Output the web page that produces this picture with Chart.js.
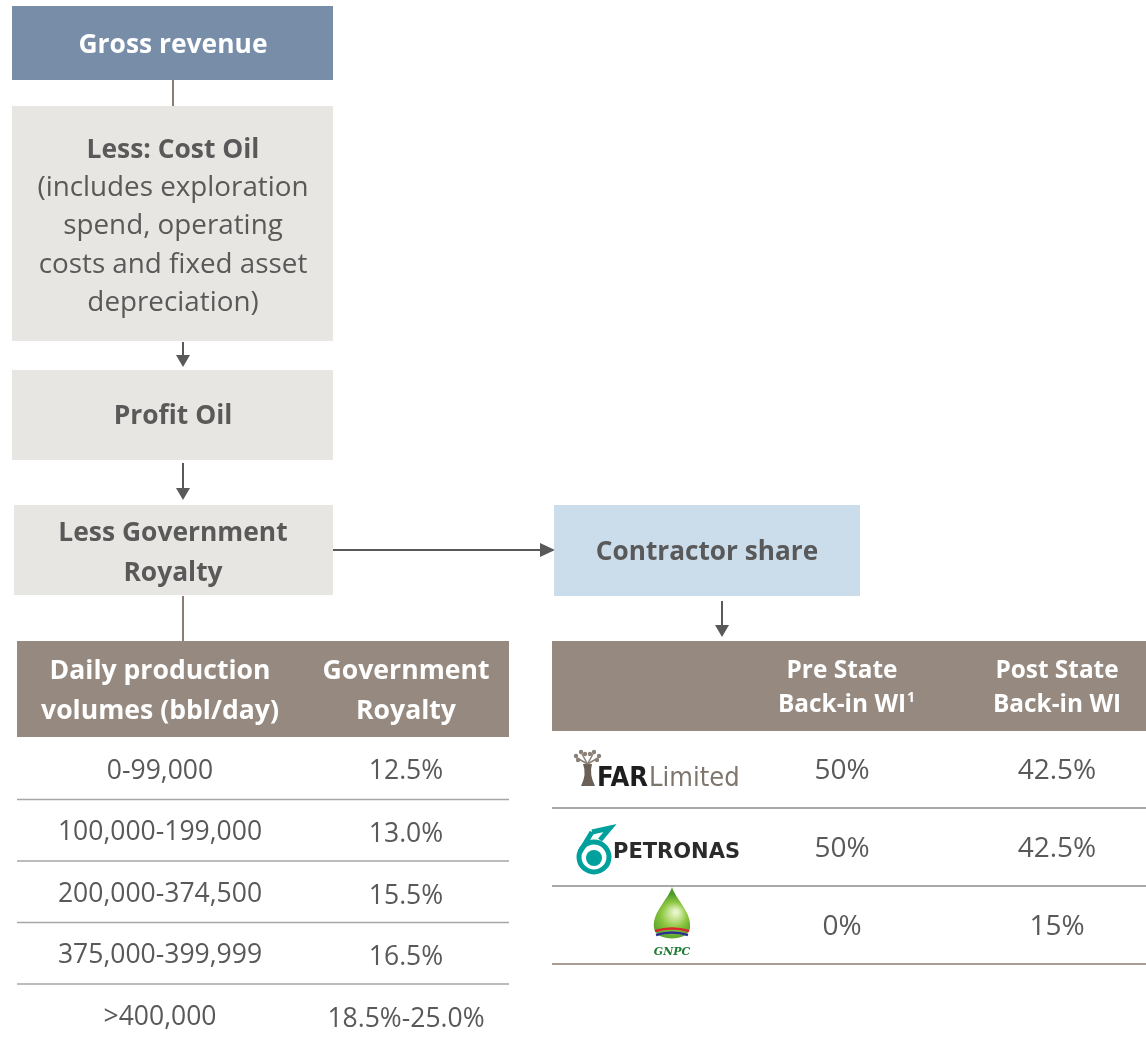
<!DOCTYPE html>
<html>
<head>
<meta charset="utf-8">
<script src="https://cdn.jsdelivr.net/npm/chart.js@4"></script>
<style>
  html, body { margin: 0; padding: 0; background: #fff; }
  #flow { display: block; }
</style>
</head>
<body>
<canvas id="flow" width="1146" height="1042"></canvas>
<script>
// flow steps (top to bottom)
const steps = ['Gross revenue', 'Less: Cost Oil', 'Profit Oil', 'Less Government Royalty', 'Contractor share'];
const costOilNote = ['(includes exploration', 'spend, operating', 'costs and fixed asset', 'depreciation)'];

// royalty table
const royaltyHeaders = [['Daily production', 'volumes (bbl/day)'], ['Government', 'Royalty']];
const volumeBands = ['0-99,000', '100,000-199,000', '200,000-374,500', '375,000-399,999', '>400,000'];
const royaltyRates = ['12.5%', '13.0%', '15.5%', '16.5%', '18.5%-25.0%'];

// contractor share table
const shareHeaders = [['Pre State', 'Back-in WI'], ['Post State', 'Back-in WI']];
const partners = ['FAR Limited', 'PETRONAS', 'GNPC'];
const preBackIn = ['50%', '50%', '0%'];
const postBackIn = ['42.5%', '42.5%', '15%'];

const FONT = '"Open Sans", Lato, sans-serif';
const TEXT = '#595959';

function font(size, bold) {
    return (bold ? 'bold ' : '') + size + 'px ' + FONT;
}

const flowPlugin = {
    id: 'flow',
    afterDraw(chart) {
        const ctx = chart.ctx;
        const sx = chart.scales.x, sy = chart.scales.y;
        const X = v => sx.getPixelForValue(v);
        const Y = v => sy.getPixelForValue(v);

        function box(x0, y0, x1, y1, fill) {
            ctx.fillStyle = fill;
            ctx.fillRect(X(x0), Y(y0), X(x1) - X(x0), Y(y1) - Y(y0));
        }
        function text(str, x, y, size, bold, color) {
            ctx.font = font(size, bold);
            ctx.fillStyle = color || TEXT;
            ctx.textAlign = 'center';
            ctx.textBaseline = 'middle';
            ctx.fillText(str, X(x), Y(y));
        }
        function line(x0, y0, x1, y1, color, w) {
            ctx.strokeStyle = color;
            ctx.lineWidth = w || 2;
            ctx.beginPath();
            ctx.moveTo(X(x0), Y(y0));
            ctx.lineTo(X(x1), Y(y1));
            ctx.stroke();
        }
        function arrowDown(x, y0, y1) {
            line(x, y0, x, y1 - 10, '#595959', 2);
            ctx.fillStyle = '#595959';
            ctx.beginPath();
            ctx.moveTo(X(x - 7), Y(y1 - 12));
            ctx.lineTo(X(x + 7), Y(y1 - 12));
            ctx.lineTo(X(x), Y(y1));
            ctx.closePath();
            ctx.fill();
        }
        function arrowRight(x0, x1, y) {
            line(x0, y, x1 - 12, y, '#595959', 2);
            ctx.fillStyle = '#595959';
            ctx.beginPath();
            ctx.moveTo(X(x1 - 15), Y(y - 7));
            ctx.lineTo(X(x1 - 15), Y(y + 7));
            ctx.lineTo(X(x1), Y(y));
            ctx.closePath();
            ctx.fill();
        }

        ctx.save();

        // flow boxes
        box(12, 6, 333, 80, '#788DA8');
        text(steps[0], 173, 45, 26.4, true, '#ffffff');
        line(173, 80, 173, 106, '#8C7B70', 2);

        box(12, 106, 333, 341, '#E8E6E3');
        text(steps[1], 173, 150, 26.4, true);
        costOilNote.forEach((s, i) => text(s, 173, 188 + i * 38.3, 27.8, false));
        arrowDown(183, 342, 367);

        box(12, 370, 333, 460, '#E8E6E3');
        text(steps[2], 173, 416, 26.4, true);
        arrowDown(183, 463, 500);

        box(14, 505, 333, 595, '#E8E6E3');
        const roy = steps[3].split(' ');
        text(roy[0] + ' ' + roy[1], 173, 533, 26.4, true);
        text(roy[2], 173, 573, 26.4, true);
        arrowRight(333, 555, 550);

        box(554, 505, 860, 596, '#CBDCEB');
        text(steps[4], 707, 553, 26.2, true);
        arrowDown(722, 601, 637);
        line(183, 596, 183, 641, '#8C7B70', 2);

        // royalty table
        box(17, 641, 509, 737, '#968A80');
        const lx = [160, 406];
        royaltyHeaders.forEach((h, c) => {
            text(h[0], lx[c], 671, 26.6, true, '#ffffff');
            text(h[1], lx[c], 711, 26.6, true, '#ffffff');
        });
        volumeBands.forEach((v, i) => {
            const yc = 771 + i * 61.5;
            text(v, lx[0], yc, 26.5, false);
            text(royaltyRates[i], i === 4 ? 406 : 406, yc + (i === 0 ? 0 : 2), 26.5, false);
            if (i < volumeBands.length - 1) line(17, yc + 28.5, 509, yc + 28.5, '#A6A6A6', 1.5);
        });

        // contractor share table
        box(552, 641, 1146, 731, '#968A80');
        const rx = [842, 1057];
        shareHeaders.forEach((h, c) => {
            text(h[0], rx[c], 671, 24.4, true, '#ffffff');
            text(h[1], rx[c], 705, 24.4, true, '#ffffff');
        });
        // superscript footnote marker
        ctx.font = font(24.4, true);
        const wPre = ctx.measureText(shareHeaders[0][1]).width;
        ctx.font = font(14, true);
        ctx.fillStyle = '#ffffff';
        ctx.textAlign = 'left';
        ctx.textBaseline = 'middle';
        ctx.fillText('1', X(rx[0]) + wPre / 2 + 1, Y(698));

        partners.forEach((p, i) => {
            const yc = 771 + i * 78;
            text(preBackIn[i], rx[0], yc, 28, false);
            text(postBackIn[i], rx[1], yc, 28, false);
            line(552, yc + 37, 1146, yc + 37, i === partners.length - 1 ? '#8C7B70' : '#8C8C8C', 1.5);
            drawLogo(p, yc);
        });

        function drawLogo(name, yc) {
            ctx.textBaseline = 'alphabetic';
            ctx.textAlign = 'left';
            if (name === 'FAR Limited') {
                // small boab tree
                ctx.fillStyle = '#6B6058';
                ctx.beginPath();
                ctx.moveTo(X(581), Y(786));
                ctx.quadraticCurveTo(X(587), Y(774), X(583), Y(764));
                ctx.lineTo(X(592), Y(764));
                ctx.quadraticCurveTo(X(589), Y(774), X(595), Y(786));
                ctx.closePath();
                ctx.fill();
                ctx.strokeStyle = '#8A8078';
                ctx.lineWidth = 1.5;
                [[577, 755], [582, 751], [593, 751], [598, 755]].forEach(d => {
                    ctx.beginPath();
                    ctx.moveTo(X(587.5), Y(764));
                    ctx.lineTo(X(d[0]), Y(d[1] + 3));
                    ctx.stroke();
                });
                ctx.fillStyle = '#8A8078';
                [[576, 756], [581, 752], [585, 754], [590, 754], [594, 752], [599, 756], [578, 760], [597, 760]].forEach(d => {
                    ctx.beginPath();
                    ctx.arc(X(d[0]), Y(d[1]), 2.2, 0, Math.PI * 2);
                    ctx.fill();
                });
                ctx.font = 'bold 27px "Liberation Sans Narrow", "DejaVu Sans Condensed", sans-serif';
                ctx.fillStyle = '#1E1E1E';
                ctx.fillText('FAR', X(597), Y(786));
                const w = ctx.measureText('FAR').width;
                ctx.font = '27px "Liberation Sans Narrow", "DejaVu Sans Condensed", sans-serif';
                ctx.fillStyle = '#7E766D';
                ctx.fillText('Limited', X(597) + w + 1, Y(786));
            } else if (name === 'PETRONAS') {
                ctx.strokeStyle = '#00A19C';
                ctx.fillStyle = '#00A19C';
                ctx.lineWidth = 5;
                ctx.beginPath();
                ctx.moveTo(X(592), Y(832));
                ctx.lineTo(X(610), Y(828));
                ctx.lineTo(X(600), Y(840));
                ctx.stroke();
                ctx.beginPath();
                ctx.arc(X(594), Y(857), 15, 0, Math.PI * 2);
                ctx.stroke();
                ctx.beginPath();
                ctx.moveTo(X(580), Y(852));
                ctx.lineTo(X(592), Y(832));
                ctx.stroke();
                ctx.beginPath();
                ctx.arc(X(594), Y(858), 8, 0, Math.PI * 2);
                ctx.fill();
                ctx.font = 'bold 21px "DejaVu Sans", sans-serif';
                ctx.fillStyle = '#2B2B2B';
                ctx.fillText('PETRONAS', X(613), Y(858));
            } else {
                const cx = X(672);
                const g = ctx.createRadialGradient(cx + 4, Y(912), 2, cx, Y(918), 24);
                g.addColorStop(0, '#E8F5C8');
                g.addColorStop(0.5, '#8CC63F');
                g.addColorStop(1, '#4C9A2A');
                ctx.fillStyle = g;
                ctx.beginPath();
                ctx.moveTo(cx, Y(887));
                ctx.bezierCurveTo(cx + 4, Y(900), cx + 20, Y(912), cx + 18, Y(928));
                ctx.bezierCurveTo(cx + 16, Y(942), cx - 16, Y(942), cx - 18, Y(928));
                ctx.bezierCurveTo(cx - 20, Y(912), cx - 4, Y(900), cx, Y(887));
                ctx.fill();
                ctx.strokeStyle = '#D9262B';
                ctx.lineWidth = 2.5;
                ctx.beginPath();
                ctx.moveTo(cx - 17, Y(931));
                ctx.quadraticCurveTo(cx, Y(926), cx + 17, Y(931));
                ctx.stroke();
                ctx.strokeStyle = '#2E3192';
                ctx.beginPath();
                ctx.moveTo(cx - 16, Y(935));
                ctx.quadraticCurveTo(cx, Y(930), cx + 16, Y(935));
                ctx.stroke();
                ctx.font = 'italic bold 11px "DejaVu Serif", serif';
                ctx.fillStyle = '#1E7B34';
                ctx.textAlign = 'center';
                ctx.fillText('GNPC', cx, Y(955));
            }
        }

        ctx.restore();
    }
};

new Chart(document.getElementById('flow').getContext('2d'), {
    type: 'scatter',
    data: { datasets: [{ data: [], pointRadius: 0 }] },
    options: {
        responsive: false,
        animation: false,
        devicePixelRatio: 1,
        layout: { padding: 0 },
        plugins: { legend: { display: false }, tooltip: { enabled: false } },
        scales: {
            x: { type: 'linear', min: 0, max: 1146, display: false },
            y: { type: 'linear', min: 0, max: 1042, reverse: true, display: false }
        }
    },
    plugins: [flowPlugin]
});
</script>
</body>
</html>
